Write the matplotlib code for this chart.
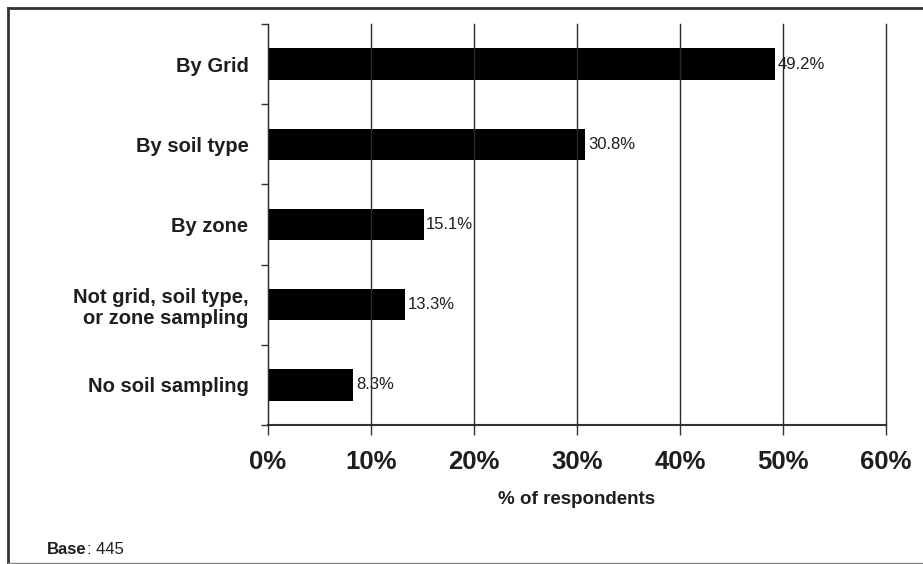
import matplotlib
matplotlib.use("Agg")
import matplotlib.pyplot as plt
from matplotlib.lines import Line2D

categories = ["By Grid", "By soil type", "By zone",
              "Not grid, soil type,\nor zone sampling", "No soil sampling"]
values = [49.2, 30.8, 15.1, 13.3, 8.3]
value_labels = ["49.2%", "30.8%", "15.1%", "13.3%", "8.3%"]
xticks = [0, 10, 20, 30, 40, 50, 60]
xtick_labels = ["0%", "10%", "20%", "30%", "40%", "50%", "60%"]

font = "Liberation Sans"
txt = "#1e1e1e"

fig = plt.figure(figsize=(9.23, 5.64), dpi=100)
ax = fig.add_axes([268/923, 1-425/564, (886-268)/923, (425-24)/564])

n = len(categories)
ypos = list(range(n))
ax.barh(ypos, values, height=0.39, color="black", zorder=2)
ax.set_ylim(n - 0.5, -0.5)
ax.set_xlim(0, 60)

for y, v, lab in zip(ypos, values, value_labels):
    ax.text(v + 0.25, y, lab, va="center", ha="left", fontsize=12,
            family=font, color=txt, zorder=1)

ax.set_xticks(xticks)
ax.set_xticklabels(xtick_labels, fontsize=18.5, fontweight="bold", family=font, color=txt)
ax.tick_params(axis="x", direction="out", length=7, width=1, pad=11, color="#333333")
ax.xaxis.grid(True, color="#2a2a2a", linewidth=1, zorder=3)
for gl in ax.get_xgridlines():
    gl.set_clip_on(False)
ax.set_axisbelow(False)

# category boundaries as major ticks, labels at centers as minor
ax.set_yticks([i - 0.5 for i in range(n + 1)])
ax.set_yticklabels([])
ax.set_yticks(ypos, minor=True)
ax.set_yticklabels(categories, minor=True, fontsize=14.5, fontweight="bold",
                   family=font, color=txt, linespacing=1.15)
ax.tick_params(axis="y", which="major", direction="out", length=5, width=1, color="#333333")
ax.tick_params(axis="y", which="minor", length=0, pad=14)
for t in ax.get_yticklabels(minor=True):
    t.set_horizontalalignment("right")

for s in ["top", "right"]:
    ax.spines[s].set_visible(False)
ax.spines["left"].set_color("#333333")
ax.spines["bottom"].set_color("#333333")
ax.spines["bottom"].set_linewidth(1.5)

ax.set_xlabel("% of respondents", fontsize=13.5, fontweight="bold", family=font,
              color=txt, labelpad=12)

base = fig.text(47/923, 1-550/564, "Base", fontsize=12, family=font,
                fontweight="bold", color=txt, va="center")
ax.annotate(": 445", xy=(1, 0.5), xycoords=base, va="center", ha="left",
            fontsize=12, family=font, color=txt, annotation_clip=False)

# outer frame
fig.add_artist(Line2D([8/923, 1.0], [1-8/564, 1-8/564], color="#333333", lw=2))
fig.add_artist(Line2D([8/923, 8/923], [1-8/564, 0.0], color="#333333", lw=2))
fig.add_artist(Line2D([8/923, 1.0], [1.5/564, 1.5/564], color="#888888", lw=1))

fig.savefig("out.png", dpi=100, facecolor="white")
